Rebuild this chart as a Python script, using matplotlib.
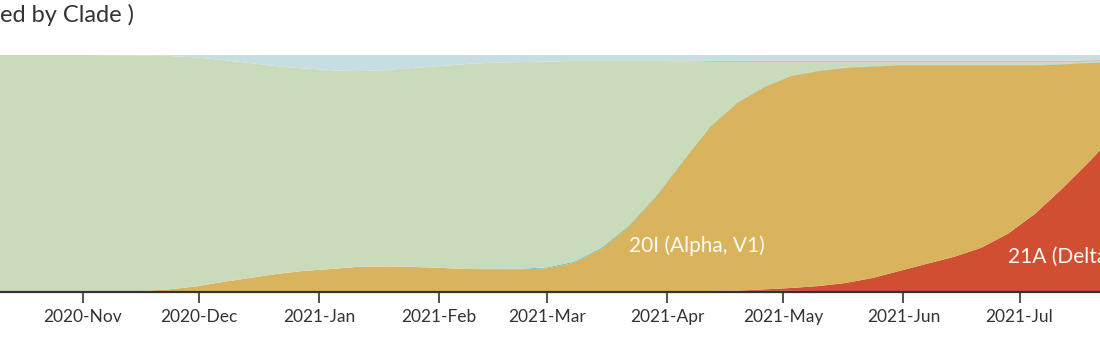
import matplotlib
matplotlib.use("Agg")
import matplotlib.pyplot as plt
import matplotlib.dates as mdates
import numpy as np
import datetime as dt

plt.rcParams['font.family'] = ['Lato', 'DejaVu Sans']

# weekly dates starting 2020-10-05
start = dt.date(2020, 10, 5)
dates = [start + dt.timedelta(days=7 * i) for i in range(43)]

purple = [0]*25 + [0.001, 0.003, 0.004, 0.005, 0.005, 0.005, 0.004, 0.003, 0.003,
                   0.002, 0.002, 0.002, 0.002, 0.002, 0.002, 0.002, 0.002, 0.002]
delta_21A = [0]*28 + [0.001, 0.006, 0.012, 0.021, 0.035, 0.056, 0.087, 0.117, 0.146,
                      0.184, 0.244, 0.328, 0.434, 0.548, 0.668]
alpha_20I = [0, 0, 0, 0, 0, 0.001, 0.004, 0.011, 0.023, 0.042, 0.059, 0.076, 0.089,
             0.097, 0.106, 0.108, 0.106, 0.102, 0.097, 0.095, 0.095, 0.100, 0.123,
             0.182, 0.275, 0.399, 0.547, 0.691, 0.791, 0.853, 0.894, 0.907, 0.907,
             0.892, 0.867, 0.837, 0.808, 0.770, 0.710, 0.626, 0.524, 0.416, 0.300]
teal = [0]*19 + [0.002, 0.003, 0.004, 0.005, 0.005, 0.005, 0.004, 0.003, 0.003,
                 0.002, 0.002, 0.002, 0.002, 0.002, 0.002, 0.002, 0.002, 0.002, 0.002,
                 0.002, 0.002, 0.002, 0.002, 0.002]
green = [1.0, 1.0, 1.0, 1.0, 1.0, 0.998, 0.994, 0.985, 0.967, 0.937, 0.907, 0.877,
         0.854, 0.839, 0.826, 0.828, 0.839, 0.851, 0.865, 0.871, 0.872, 0.868, 0.847,
         0.788, 0.695, 0.571, 0.420, 0.273, 0.171, 0.103, 0.055, 0.034, 0.021, 0.015,
         0.010, 0.010, 0.010, 0.010, 0.010, 0.010, 0.006, 0.003, 0.002]
pink = [0]*26 + [0.002, 0.004, 0.005, 0.006, 0.007, 0.007, 0.007, 0.007, 0.007, 0.007,
                 0.007, 0.007, 0.007, 0.007, 0.007, 0.007, 0.006]
blue = [0, 0, 0, 0, 0, 0.001, 0.002, 0.004, 0.010, 0.021, 0.034, 0.047, 0.057, 0.064,
        0.068, 0.064, 0.055, 0.047, 0.038, 0.032, 0.030, 0.028, 0.025, 0.025, 0.025,
        0.025, 0.025, 0.025, 0.025, 0.025, 0.025, 0.025, 0.025, 0.025, 0.025, 0.025,
        0.025, 0.025, 0.025, 0.025, 0.025, 0.022, 0.020]

series = [purple, delta_21A, alpha_20I, teal, green, pink, blue]
colors = ['#7C4DA6', '#D04F33', '#D9B45D', '#6FBCAE', '#C9DBBB', '#DDB9B4', '#C6DEE1']

fig = plt.figure(figsize=(11.0, 3.47), dpi=100)
ax = fig.add_axes([0, (347 - 292) / 347, 1, (292 - 55) / 347])

x = mdates.date2num(dates)
polys = ax.stackplot(x, *series, colors=colors, linewidth=0)
for p in polys:
    p.set_edgecolor('none')

nov1 = mdates.date2num(dt.date(2020, 11, 1))
ax.set_xlim(nov1 - 83 / 3.87, nov1 + (1100 - 83) / 3.87)
ax.set_ylim(0, 1)

ax.xaxis.set_major_locator(mdates.MonthLocator())
ax.xaxis.set_major_formatter(mdates.DateFormatter('%Y-%b'))
ax.tick_params(axis='x', length=8, width=1.2, color='#333333', labelsize=12.5,
               labelcolor='#333333', pad=4)
ax.set_yticks([])
for s in ['top', 'left', 'right']:
    ax.spines[s].set_visible(False)
ax.spines['bottom'].set_color('#333333')
ax.spines['bottom'].set_linewidth(1.6)
ax.spines['bottom'].set_zorder(5)

ax.text(mdates.date2num(dt.date(2021, 3, 22)), 0.195, '20I (Alpha, V1)',
        color='#FFFFFF', fontsize=15, va='center', ha='left', alpha=0.95)
ax.text(mdates.date2num(dt.date(2021, 6, 28)), 0.148, '21A (Delta)',
        color='#FFFFFF', fontsize=15, va='center', ha='left', alpha=0.95)

fig.text(0.0, 1 - 15 / 347, 'ed by Clade )', fontsize=17, color='#333333',
         va='center', ha='left')

fig.savefig('out.png', dpi=100)
